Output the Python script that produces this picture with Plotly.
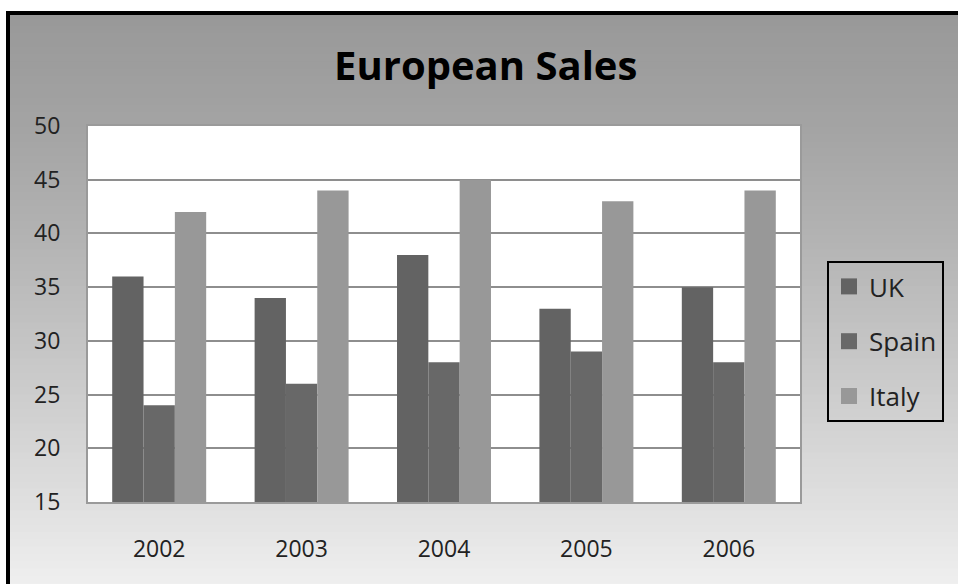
import plotly.graph_objects as go

years = ["2002", "2003", "2004", "2005", "2006"]
uk = [36, 34, 38, 33, 35]
spain = [24, 26, 28, 29, 28]
italy = [42, 44, 45, 43, 44]
series_names = ["UK", "Spain", "Italy"]
series_colors = ["#636363", "#686868", "#989898"]

W, H = 958, 584
L, R, T, B = 88, 158, 126, 82
PW, PH = W - L - R, H - T - B
FONT = "Open Sans"


def px_x(x):
    return (x - L) / PW


def px_y(y):
    return (H - B - y) / PH


fig = go.Figure()
for name, vals, col in zip(series_names, [uk, spain, italy], series_colors):
    fig.add_trace(go.Bar(x=years, y=vals, name=name, marker=dict(color=col, line=dict(width=0)),
                         showlegend=False))
for i, (name, col) in enumerate(zip(series_names, series_colors)):
    fig.add_trace(go.Scatter(x=[None], y=[None], mode="markers", name=name, legendgroup=f"g{i}",
                             marker=dict(symbol="square", size=16, color=col)))

# gradient background stripes
shapes = []
stops = [(11, 152), (120, 163), (250, 181), (400, 206), (500, 223), (584, 239)]
N = 80
y0p, y1p = 11, 590
for k in range(N):
    ya = y0p + (y1p - y0p) * k / N
    yb = y0p + (y1p - y0p) * (k + 1) / N
    ym = (ya + yb) / 2
    v = stops[-1][1]
    for (a, va), (b, vb) in zip(stops[:-1], stops[1:]):
        if a <= ym <= b:
            v = va + (vb - va) * (ym - a) / (b - a)
            break
    if ym < stops[0][0]:
        v = stops[0][1]
    c = int(round(v))
    shapes.append(dict(type="rect", xref="paper", yref="paper", layer="below",
                       x0=px_x(6), x1=px_x(970), y0=px_y(yb + 2), y1=px_y(ya),
                       fillcolor=f"rgb({c},{c},{c})", line=dict(width=0)))
# white plot area
shapes.append(dict(type="rect", xref="paper", yref="paper", layer="below",
                   x0=0, x1=1, y0=0, y1=1, fillcolor="white", line=dict(width=0)))
# black frame
shapes.append(dict(type="rect", xref="paper", yref="paper", layer="above",
                   x0=px_x(8), x1=px_x(975), y0=px_y(600), y1=px_y(13),
                   fillcolor="rgba(0,0,0,0)", line=dict(color="black", width=4)))

fig.update_layout(
    width=W, height=H,
    margin=dict(l=L, r=R, t=T, b=B),
    paper_bgcolor="white",
    plot_bgcolor="white",
    barmode="group",
    bargap=0.34,
    bargroupgap=0,
    shapes=shapes,
    font=dict(family=FONT, size=23, color="#222222"),
    title=dict(text="<b>European Sales</b>", x=0.507, xanchor="center", xref="container",
               y=1 - 66 / H, yanchor="middle", yref="container",
               font=dict(family=FONT, size=40, color="black")),
    xaxis=dict(showline=True, linecolor="#9a9a9a", linewidth=2, mirror=True,
               showgrid=False, ticks="", ticklabelstandoff=25,
               tickfont=dict(family=FONT, size=23, color="#222222")),
    yaxis=dict(range=[15, 50], dtick=5, tick0=15, showline=True, linecolor="#9a9a9a",
               linewidth=2, mirror=True, showgrid=True, gridcolor="#8e8e8e", gridwidth=2,
               ticks="", ticklabelstandoff=21, zeroline=False,
               tickfont=dict(family=FONT, size=23, color="#222222")),
    legend=dict(x=px_x(827), y=px_y(261), xanchor="left", yanchor="top",
                bgcolor="rgba(0,0,0,0)", bordercolor="black", borderwidth=2,
                tracegroupgap=18,
                font=dict(family=FONT, size=26, color="#222222")),
)

fig.write_html("out.html", config={"displayModeBar": False},
               post_script="document.body.style.margin='0px';")
